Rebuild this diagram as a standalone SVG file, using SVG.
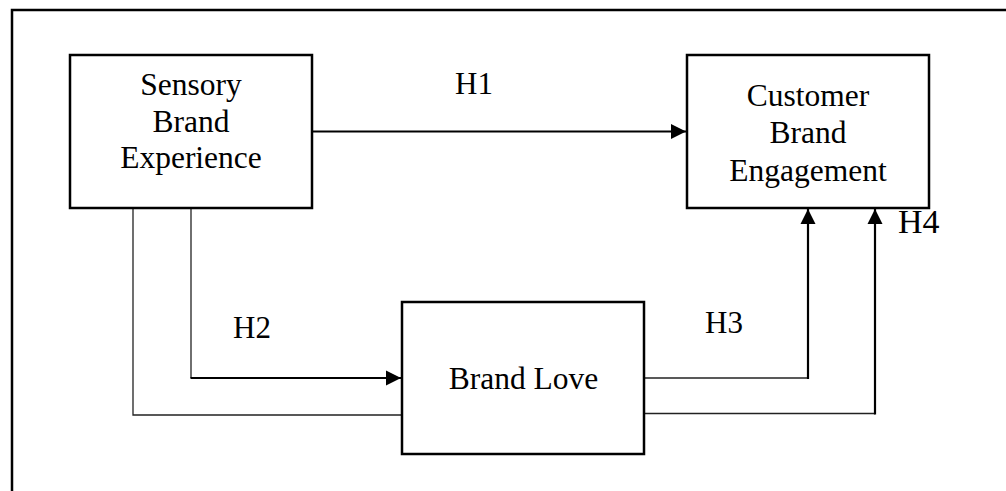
<svg xmlns="http://www.w3.org/2000/svg" width="1006" height="491" viewBox="0 0 1006 491">
  <style>
    .box { fill: #ffffff; stroke: #000000; stroke-width: 2.5; }
    .label { font-family: "Liberation Serif", "Times New Roman", serif; font-size: 31.5px; fill: #000000; text-anchor: middle; }
    .hyp { font-family: "Liberation Serif", "Times New Roman", serif; font-size: 31px; fill: #000000; }
    .thin { fill: none; stroke: #222222; stroke-width: 1.3; }
    .thick { fill: none; stroke: #000000; stroke-width: 2.2; }
  </style>
  <defs>
    <marker id="arrow" markerUnits="userSpaceOnUse" markerWidth="16" markerHeight="16" viewBox="0 0 16 16" refX="15" refY="8" orient="auto">
      <path d="M0,0.5 L15,8 L0,15.5 Z" fill="#000000"/>
    </marker>
  </defs>

  <rect width="1006" height="491" fill="#ffffff"/>

  <!-- outer frame, open on the right and bottom -->
  <path d="M12,491 V10 H1006" fill="none" stroke="#000000" stroke-width="2.5"/>

  <g id="connectors">
    <!-- H1 -->
    <path class="thick" d="M312,131.5 H686" marker-end="url(#arrow)"/>
    <!-- H2 -->
    <path class="thin" d="M191,208 V378"/>
    <path class="thick" d="M190.5,378 H401" marker-end="url(#arrow)"/>
    <!-- H3 -->
    <path class="thin" d="M644,378 H808"/>
    <path class="thick" d="M808,379 V209" marker-end="url(#arrow)"/>
    <!-- H4 (indirect path through Brand Love) -->
    <path class="thin" d="M133,208 V415 H402"/>
    <path class="thin" d="M644,413.5 H875"/>
    <path class="thick" d="M875,414.5 V209" marker-end="url(#arrow)"/>
  </g>

  <g id="sensory-brand-experience">
    <rect class="box" x="70" y="55" width="242" height="153"/>
    <text class="label" x="191" y="95">Sensory</text>
    <text class="label" x="191" y="131.5">Brand</text>
    <text class="label" x="191" y="168">Experience</text>
  </g>

  <g id="customer-brand-engagement">
    <rect class="box" x="687" y="55" width="242" height="153"/>
    <text class="label" x="808" y="106">Customer</text>
    <text class="label" x="808" y="143">Brand</text>
    <text class="label" x="808" y="181">Engagement</text>
  </g>

  <g id="brand-love">
    <rect class="box" x="402" y="302" width="242" height="152"/>
    <text class="label" x="523.5" y="389">Brand Love</text>
  </g>

  <g id="hypotheses">
    <text class="hyp" x="455" y="94">H1</text>
    <text class="hyp" x="233" y="338">H2</text>
    <text class="hyp" x="705" y="333">H3</text>
    <text class="hyp" x="898" y="233" style="font-size:34px">H4</text>
  </g>
</svg>
